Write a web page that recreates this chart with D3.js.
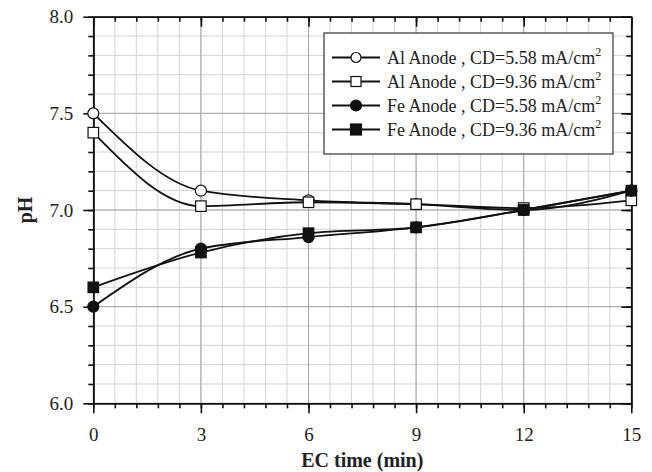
<!DOCTYPE html>
<html>
<head>
<meta charset="utf-8">
<script src="https://cdn.jsdelivr.net/npm/d3@7"></script>
<style>
  body { margin: 0; background: #fff; }
</style>
</head>
<body>
<div id="chart-container"></div>
<script>
// EC time in minutes
var ecTime = [0, 3, 6, 9, 12, 15];

// pH readings per anode / current density
var alAnode558 = [7.50, 7.10, 7.05, 7.03, 7.00, 7.10];
var alAnode936 = [7.40, 7.02, 7.04, 7.03, 7.01, 7.05];
var feAnode558 = [6.50, 6.80, 6.86, 6.91, 7.00, 7.10];
var feAnode936 = [6.60, 6.78, 6.88, 6.91, 7.00, 7.10];

var seriesNames = ['Al Anode , CD=5.58 mA/cm', 'Al Anode , CD=9.36 mA/cm', 'Fe Anode , CD=5.58 mA/cm', 'Fe Anode , CD=9.36 mA/cm'];

var xTicks = [0, 3, 6, 9, 12, 15];
var yTicks = [6.0, 6.5, 7.0, 7.5, 8.0];

var serifFont = '"Liberation Serif", "Times New Roman", Times, serif';

var chart = {};

chart.render = function() {

  var svgWidth = 652,
      svgHeight = 472,
      svg = d3.select('#chart-container').append('svg').attr('width', svgWidth).attr('height', svgHeight)
        .attr('font-family', serifFont),
      margin = { top: 16.7, right: 20, bottom: 68.7, left: 93.3 },
      width = svgWidth - margin.left - margin.right - 0.7,
      height = svgHeight - margin.top - margin.bottom;

  var g = svg.append('g').attr('transform', 'translate(' + margin.left + ',' + margin.top + ')');

  var x = d3.scaleLinear().domain([0, 15]).range([0, width]);
  var y = d3.scaleLinear().domain([6, 8]).range([height, 0]);

  var xMinor = d3.range(0, 15.001, 0.6),
      yMinor = d3.range(6, 8.001, 0.1);

  // grid, light minor first then darker major
  g.append('g').selectAll('line').data(xMinor).enter().append('line')
    .attr('x1', function(d) { return x(d); }).attr('x2', function(d) { return x(d); })
    .attr('y1', 0).attr('y2', height)
    .attr('stroke', '#d4d4d4').attr('stroke-width', 1);
  g.append('g').selectAll('line').data(yMinor).enter().append('line')
    .attr('y1', function(d) { return y(d); }).attr('y2', function(d) { return y(d); })
    .attr('x1', 0).attr('x2', width)
    .attr('stroke', '#d4d4d4').attr('stroke-width', 1);
  g.append('g').selectAll('line').data(xTicks).enter().append('line')
    .attr('x1', function(d) { return x(d); }).attr('x2', function(d) { return x(d); })
    .attr('y1', 0).attr('y2', height)
    .attr('stroke', '#a6a6a6').attr('stroke-width', 1);
  g.append('g').selectAll('line').data(yTicks).enter().append('line')
    .attr('y1', function(d) { return y(d); }).attr('y2', function(d) { return y(d); })
    .attr('x1', 0).attr('x2', width)
    .attr('stroke', '#a6a6a6').attr('stroke-width', 1);

  // axes: bottom/left ticks outside, top/right ticks inside
  var axisStyle = function(sel) {
    sel.attr('font-family', serifFont);
    sel.selectAll('path, line').attr('stroke', '#111').attr('stroke-width', 1.6);
    sel.selectAll('text').attr('font-family', serifFont).style('font-size', '19px').attr('fill', '#222');
  };

  g.append('g').attr('transform', 'translate(0,' + height + ')')
    .call(d3.axisBottom(x).tickValues(xMinor).tickSize(5).tickSizeOuter(0).tickFormat(''))
    .call(axisStyle);
  g.append('g').attr('transform', 'translate(0,' + height + ')')
    .call(d3.axisBottom(x).tickValues(xTicks).tickSize(10).tickSizeOuter(0).tickPadding(14).tickFormat(d3.format('d')))
    .call(axisStyle);

  g.append('g')
    .call(d3.axisLeft(y).tickValues(yMinor).tickSize(5).tickSizeOuter(0).tickFormat(''))
    .call(axisStyle);
  g.append('g')
    .call(d3.axisLeft(y).tickValues(yTicks).tickSize(10).tickSizeOuter(0).tickPadding(10).tickFormat(d3.format('.1f')))
    .call(axisStyle);

  g.append('g')
    .call(d3.axisBottom(x).tickValues(xMinor).tickSize(5).tickSizeOuter(0).tickFormat(''))
    .call(axisStyle);
  g.append('g')
    .call(d3.axisBottom(x).tickValues(xTicks).tickSize(10).tickSizeOuter(0).tickFormat(''))
    .call(axisStyle);
  g.append('g').attr('transform', 'translate(' + width + ',0)')
    .call(d3.axisLeft(y).tickValues(yMinor).tickSize(5).tickSizeOuter(0).tickFormat(''))
    .call(axisStyle);
  g.append('g').attr('transform', 'translate(' + width + ',0)')
    .call(d3.axisLeft(y).tickValues(yTicks).tickSize(10).tickSizeOuter(0).tickFormat(''))
    .call(axisStyle);

  g.append('text')
    .attr('transform', 'translate(' + (width / 2) + ',' + (height + 64) + ')')
    .attr('font-family', serifFont)
    .attr('fill', '#222')
    .style('text-anchor', 'middle')
    .style('font-size', '20px')
    .style('font-weight', 'bold')
    .text('EC time (min)');

  g.append('text')
    .attr('transform', 'translate(' + (-61) + ',' + (height / 2) + ') rotate(-90)')
    .attr('font-family', serifFont)
    .attr('fill', '#222')
    .style('text-anchor', 'middle')
    .style('font-size', '20px')
    .style('font-weight', 'bold')
    .text('pH');

  var series = [
    { name: seriesNames[0], values: alAnode558, shape: 'circle', fill: '#fff' },
    { name: seriesNames[1], values: alAnode936, shape: 'square', fill: '#fff' },
    { name: seriesNames[2], values: feAnode558, shape: 'circle', fill: '#111' },
    { name: seriesNames[3], values: feAnode936, shape: 'square', fill: '#111' }
  ];

  var line = d3.line()
    .x(function(d, i) { return x(ecTime[i]); })
    .y(function(d) { return y(d); })
    .curve(d3.curveMonotoneX);

  series.forEach(function(s) {
    g.append('path')
      .datum(s.values)
      .attr('fill', 'none')
      .attr('stroke', '#111')
      .attr('stroke-width', 1.8)
      .attr('d', line);
  });

  var drawMarker = function(sel, s, cx, cy, size) {
    if (s.shape === 'circle') {
      sel.append('circle').attr('cx', cx).attr('cy', cy).attr('r', size / 2)
        .attr('fill', s.fill).attr('stroke', '#111').attr('stroke-width', 1.2);
    } else {
      sel.append('rect').attr('x', cx - size / 2).attr('y', cy - size / 2)
        .attr('width', size).attr('height', size)
        .attr('fill', s.fill).attr('stroke', '#111').attr('stroke-width', 1.2);
    }
  };

  series.forEach(function(s) {
    var mg = g.append('g');
    s.values.forEach(function(v, i) {
      drawMarker(mg, s, x(ecTime[i]), y(v), s.shape === 'circle' ? 11 : 10.5);
    });
  });

  // legend
  var lg = svg.append('g').attr('transform', 'translate(324,33)');
  lg.append('rect')
    .attr('width', 289).attr('height', 121)
    .attr('fill', '#fff').attr('stroke', '#333').attr('stroke-width', 1.2);

  series.forEach(function(s, i) {
    var cy = 24.5 + i * 24;
    lg.append('line')
      .attr('x1', 8).attr('x2', 56).attr('y1', cy).attr('y2', cy)
      .attr('stroke', '#111').attr('stroke-width', 1.8);
    drawMarker(lg, s, 32, cy, s.fill === '#fff' ? 10 : 11);
    var t = lg.append('text')
      .attr('x', 63).attr('y', cy + 6)
      .attr('font-family', serifFont)
      .attr('fill', '#222')
      .style('font-size', '18px')
      .text(s.name);
    t.append('tspan').attr('dy', -8).style('font-size', '12px').text('2');
  });

};

chart.render();
</script>
</body>
</html>
